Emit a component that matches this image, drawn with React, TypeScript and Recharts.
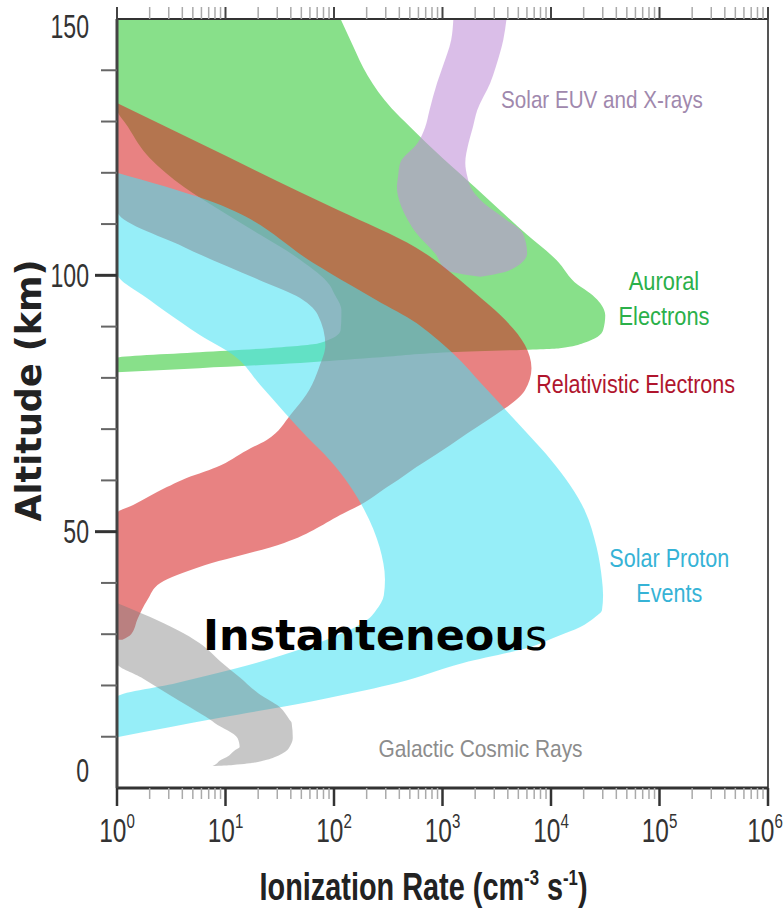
import React from 'react';
import { Area, ComposedChart, ReferenceDot, ReferenceLine, XAxis, YAxis } from 'recharts';

const SANS = '"Liberation Sans Narrow", "Arial Narrow", "Liberation Sans", Arial, sans-serif';
const HEAVY = '"DejaVu Sans", Verdana, sans-serif';

// axis ticks
const rateMajor = [1, 10, 100, 1000, 10000, 100000, 1000000];
const rateExp = ['0', '1', '2', '3', '4', '5', '6'];
const rateMinor = [
  2, 3, 4, 5, 6, 7, 8, 9,
  20, 30, 40, 50, 60, 70, 80, 90,
  200, 300, 400, 500, 600, 700, 800, 900,
  2000, 3000, 4000, 5000, 6000, 7000, 8000, 9000,
  20000, 30000, 40000, 50000, 60000, 70000, 80000, 90000,
  200000, 300000, 400000, 500000, 600000, 700000, 800000, 900000,
];
const altTicks = [0, 10, 20, 30, 40, 50, 60, 70, 80, 90, 100, 110, 120, 130, 140, 150];
const altLabelled = [0, 50, 100, 150];

// Auroral electrons (green)
const auroralAlt = [81.1, 81.9, 82.9, 83.9, 85.0, 85.8, 86.8, 89.3, 92.2, 93.2, 96.5, 98.1, 103, 107.9, 112.7, 117.2, 122.9, 129, 132.6, 139, 145, 150];
const auroralLow = [1, 1, 1, 1, 5.75, 25.1, 74.1, 115, 117, 117, 100, 91.2, 49, 20.9, 8.91, 4.17, 2.0, 1.26, 1, 1, 1, 1];
const auroralHigh = [1, 5.75, 49, 224, 1175, 12020, 19950, 30200, 31620, 30900, 22910, 17780, 11220, 6026, 3388, 1995, 1000, 501, 339, 204, 148, 115];

// Solar EUV and X-rays (purple)
const euvAlt = [99.7, 101.0, 104.3, 108.2, 110.8, 114.7, 117.2, 119.2, 121.9, 125.8, 128.9, 132.2, 137.5, 140.6, 145.9, 150];
const euvLow = [2239, 1096, 851, 575, 479, 398, 380, 389, 407, 589, 692, 759, 891, 1000, 1202, 1259];
const euvHigh = [2239, 4169, 6026, 5495, 3890, 2239, 1820, 1698, 1622, 1738, 1905, 2089, 2754, 3090, 3631, 3890];

// Relativistic electrons (red)
const relAlt = [28.9, 30, 33, 36.7, 40, 43.1, 47.8, 53.6, 55.2, 58.7, 60.1, 62.6, 65.9, 67.9, 72.8, 74.1, 77.6, 81.9, 86.4, 92.3, 96, 99.1, 105.5, 112.7, 116.2, 125.8, 133.6];
const relLow = [1, 1, 1, 1, 1, 1, 1, 1, 1.41, 2.88, 3.98, 8.32, 15.8, 24.0, 39.8, 44.7, 58.9, 72.4, 83.2, 70.8, 44.7, 20.4, 4.17, 1, 1, 1, 1];
const relHigh = [1.12, 1.35, 1.55, 1.91, 2.51, 5.75, 34.7, 123, 174, 309, 389, 575, 1000, 1380, 3090, 3802, 5754, 6607, 5754, 3388, 2138, 1445, 562, 110, 49.0, 5.75, 1];

// Solar proton events (cyan)
const speAlt = [9.9, 13.7, 17.2, 17.7, 20.5, 24.4, 27.5, 29.5, 31.4, 33.2, 34.7, 37.6, 40.6, 47.0, 54.2, 64.0, 68.5, 73.1, 78.6, 84.5, 88.4, 90.7, 95.2, 100.6, 102, 114.7, 120];
const speLow = [1, 1, 1, 1, 3.55, 19.1, 56.2, 100, 158, 214, 245, 288, 295, 263, 191, 91.2, 56.2, 35.5, 20.9, 11.7, 5.75, 3.98, 2.0, 1, 1, 1, 1];
const speHigh = [1, 8.91, 74.1, 95.5, 380, 1549, 6457, 11220, 18620, 25120, 29510, 30200, 29510, 26300, 20420, 10000, 6457, 4074, 2344, 1288, 794, 575, 245, 89.1, 69.2, 6.76, 1];

// Galactic cosmic rays (grey)
const gcrAlt = [4.3, 4.5, 5.5, 6.0, 7.4, 8.0, 9.75, 12.7, 13.3, 15.8, 18.5, 21.6, 24.4, 28.3, 33.4, 36.1];
const gcrLow = [7.59, 7.94, 9.12, 10.2, 12.3, 13.5, 12.9, 7.94, 7.24, 4.68, 2.88, 1.66, 1, 1, 1, 1];
const gcrHigh = [7.59, 11.7, 24.0, 28.2, 37.2, 38.9, 41.7, 40.7, 38.9, 31.6, 20.0, 13.5, 9.33, 5.75, 2.0, 1];

const band = (alt: number[], low: number[], high: number[]) =>
  alt.map((a, i) => ({ alt: a, rate: [low[i], high[i]] }));

const auroral = band(auroralAlt, auroralLow, auroralHigh);
const euv = band(euvAlt, euvLow, euvHigh);
const relativistic = band(relAlt, relLow, relHigh);
const protons = band(speAlt, speLow, speHigh);
const cosmic = band(gcrAlt, gcrLow, gcrHigh);

// the source uses a condensed face; squeeze the regular one
const squeeze = (x: number, y: number, s: number) => `translate(${x} ${y}) scale(${s} 1)`;

const BottomTick = (props: any) => {
  const { x, y, payload } = props;
  const idx = rateMajor.indexOf(payload.value);
  const major = idx >= 0;
  const shift = idx === rateMajor.length - 1 ? -3 : 0;
  return (
    <g>
      <line x1={x} x2={x} y1={y} y2={y + (major ? 18 : 11)} stroke={major ? '#333' : '#aaa'} strokeWidth={major ? 2.5 : 1.5} />
      {major && (
        <g transform={squeeze(x + shift, y + 54, 0.72)}>
          <text x={0} y={0} textAnchor="middle" fontFamily={SANS} fontSize={34} fill="#333">
            10
            <tspan dy={-14} fontSize={21}>{rateExp[idx]}</tspan>
          </text>
        </g>
      )}
    </g>
  );
};

const TopTick = (props: any) => {
  const { x, y, payload } = props;
  const major = rateMajor.includes(payload.value);
  return <line x1={x} x2={x} y1={y} y2={y - 12} stroke={major ? '#444' : '#aaa'} strokeWidth={major ? 2 : 1.5} />;
};

const LeftTick = (props: any) => {
  const { x, y, payload } = props;
  const v = payload.value;
  const major = altLabelled.includes(v);
  const showLine = v > 0 && v < 150;
  const nudge = v === 0 ? -18 : v === 150 ? 7 : 0;
  return (
    <g>
      {showLine && (
        <line x1={x - (major ? 22 : 16)} x2={x} y1={y} y2={y} stroke={major ? '#333' : '#666'} strokeWidth={major ? 3 : 2} />
      )}
      {major && (
        <g transform={squeeze(x - 28, y + nudge, 0.7)}>
          <text x={0} y={0} textAnchor="end" dominantBaseline="central" fontFamily={SANS} fontSize={33} fill="#333">
            {v}
          </text>
        </g>
      )}
    </g>
  );
};

const XTitle = (props: any) => {
  const { viewBox } = props;
  const cx = viewBox.x + viewBox.width / 2 - 19;
  return (
    <g transform={squeeze(cx, viewBox.y + 112, 0.76)}>
      <text x={0} y={0} textAnchor="middle" fontFamily={SANS} fontWeight="bold" fontSize={38} fill="#222">
        Ionization Rate (cm
        <tspan dy={-15} fontSize={22}>-3</tspan>
        <tspan dy={15}> s</tspan>
        <tspan dy={-15} fontSize={22}>-1</tspan>
        <tspan dy={15}>)</tspan>
      </text>
    </g>
  );
};

const YTitle = (props: any) => {
  const { viewBox } = props;
  const x0 = viewBox.x + 14;
  const y0 = viewBox.y + viewBox.height / 2 - 13;
  return (
    <text x={x0} y={y0} transform={`rotate(-90, ${x0}, ${y0})`} textAnchor="middle" fontFamily={HEAVY} fontWeight="bold" fontSize={35} fill="#222">
      Altitude (km)
    </text>
  );
};

const note = (lines: string[], color: string, size: number, s: number) => (props: any) => {
  const { viewBox } = props;
  const cx = viewBox.x + viewBox.width / 2;
  const cy = viewBox.y + viewBox.height / 2;
  return (
    <g transform={squeeze(cx, cy, s)}>
      <text x={0} y={0} textAnchor="middle" fontFamily={SANS} fontSize={size} fill={color}>
        {lines.map((l, i) => (
          <tspan key={l} x={0} dy={i === 0 ? 0 : 35}>
            {l}
          </tspan>
        ))}
      </text>
    </g>
  );
};

const Instant = (props: any) => {
  const { viewBox } = props;
  return (
    <text x={viewBox.x} y={viewBox.y} fontFamily={HEAVY} fontWeight="bold" fontSize={43} fill="#000">
      Instanteneou<tspan fontWeight="normal">s</tspan>
    </text>
  );
};

export default function App() {
  return (
    <div style={{ position: 'absolute', left: 0, top: 0, width: 784, height: 912, background: '#fff' }}>
      <ComposedChart width={784} height={912} layout="vertical" margin={{ top: 18, right: 16, bottom: 14, left: 27 }}>
        <XAxis
          xAxisId="top"
          orientation="top"
          type="number"
          scale="log"
          domain={[1, 1000000]}
          allowDataOverflow
          ticks={[...rateMajor, ...rateMinor]}
          interval={0}
          height={1}
          tickSize={0}
          tickMargin={0}
          tickLine={false}
          tick={<TopTick />}
          axisLine={{ stroke: '#333', strokeWidth: 2 }}
        />
        <XAxis
          type="number"
          scale="log"
          domain={[1, 1000000]}
          allowDataOverflow
          ticks={[...rateMajor, ...rateMinor]}
          interval={0}
          height={110}
          tickSize={0}
          tickMargin={0}
          tickLine={false}
          tick={<BottomTick />}
          axisLine={{ stroke: '#333', strokeWidth: 3 }}
          label={XTitle}
        />
        <YAxis
          type="number"
          dataKey="alt"
          domain={[0, 150]}
          reversed
          allowDataOverflow
          ticks={altTicks}
          interval={0}
          width={90}
          tickSize={0}
          tickMargin={0}
          tickLine={false}
          tick={<LeftTick />}
          axisLine={{ stroke: '#444', strokeWidth: 3 }}
          label={YTitle}
        />

        <Area data={auroral} dataKey="rate" type="monotone" fill="#88e08a" fillOpacity={1} stroke="none" dot={false} activeDot={false} isAnimationActive={false} />
        <Area data={euv} dataKey="rate" type="monotone" fill="rgb(192,144,216)" fillOpacity={0.59} stroke="none" dot={false} activeDot={false} isAnimationActive={false} />
        <Area data={relativistic} dataKey="rate" type="monotone" fill="rgb(215,36,36)" fillOpacity={0.57} stroke="none" dot={false} activeDot={false} isAnimationActive={false} />
        <Area data={protons} dataKey="rate" type="monotone" fill="rgb(70,225,243)" fillOpacity={0.57} stroke="none" dot={false} activeDot={false} isAnimationActive={false} />
        <Area data={cosmic} dataKey="rate" type="monotone" fill="rgb(126,126,126)" fillOpacity={0.43} stroke="none" dot={false} activeDot={false} isAnimationActive={false} />

        <ReferenceLine x={1000000} stroke="#555" strokeWidth={2} />

        <ReferenceDot x={29500} y={132.6} r={0} fill="none" stroke="none" label={note(['Solar EUV and X-rays'], '#9f88ad', 24, 0.86)} />
        <ReferenceDot x={110000} y={97.1} r={0} fill="none" stroke="none" label={note(['Auroral', 'Electrons'], '#2bb04a', 26, 0.84)} />
        <ReferenceDot x={60300} y={77.0} r={0} fill="none" stroke="none" label={note(['Relativistic Electrons'], '#b0152d', 26, 0.83)} />
        <ReferenceDot x={123000} y={43.1} r={0} fill="none" stroke="none" label={note(['Solar Proton', 'Events'], '#36b3d6', 26, 0.83)} />
        <ReferenceDot x={2240} y={6.0} r={0} fill="none" stroke="none" label={note(['Galactic Cosmic Rays'], '#8c8c8c', 24, 0.87)} />
        <ReferenceDot x={6.2} y={26.9} r={0} fill="none" stroke="none" label={Instant} />
      </ComposedChart>
    </div>
  );
}
